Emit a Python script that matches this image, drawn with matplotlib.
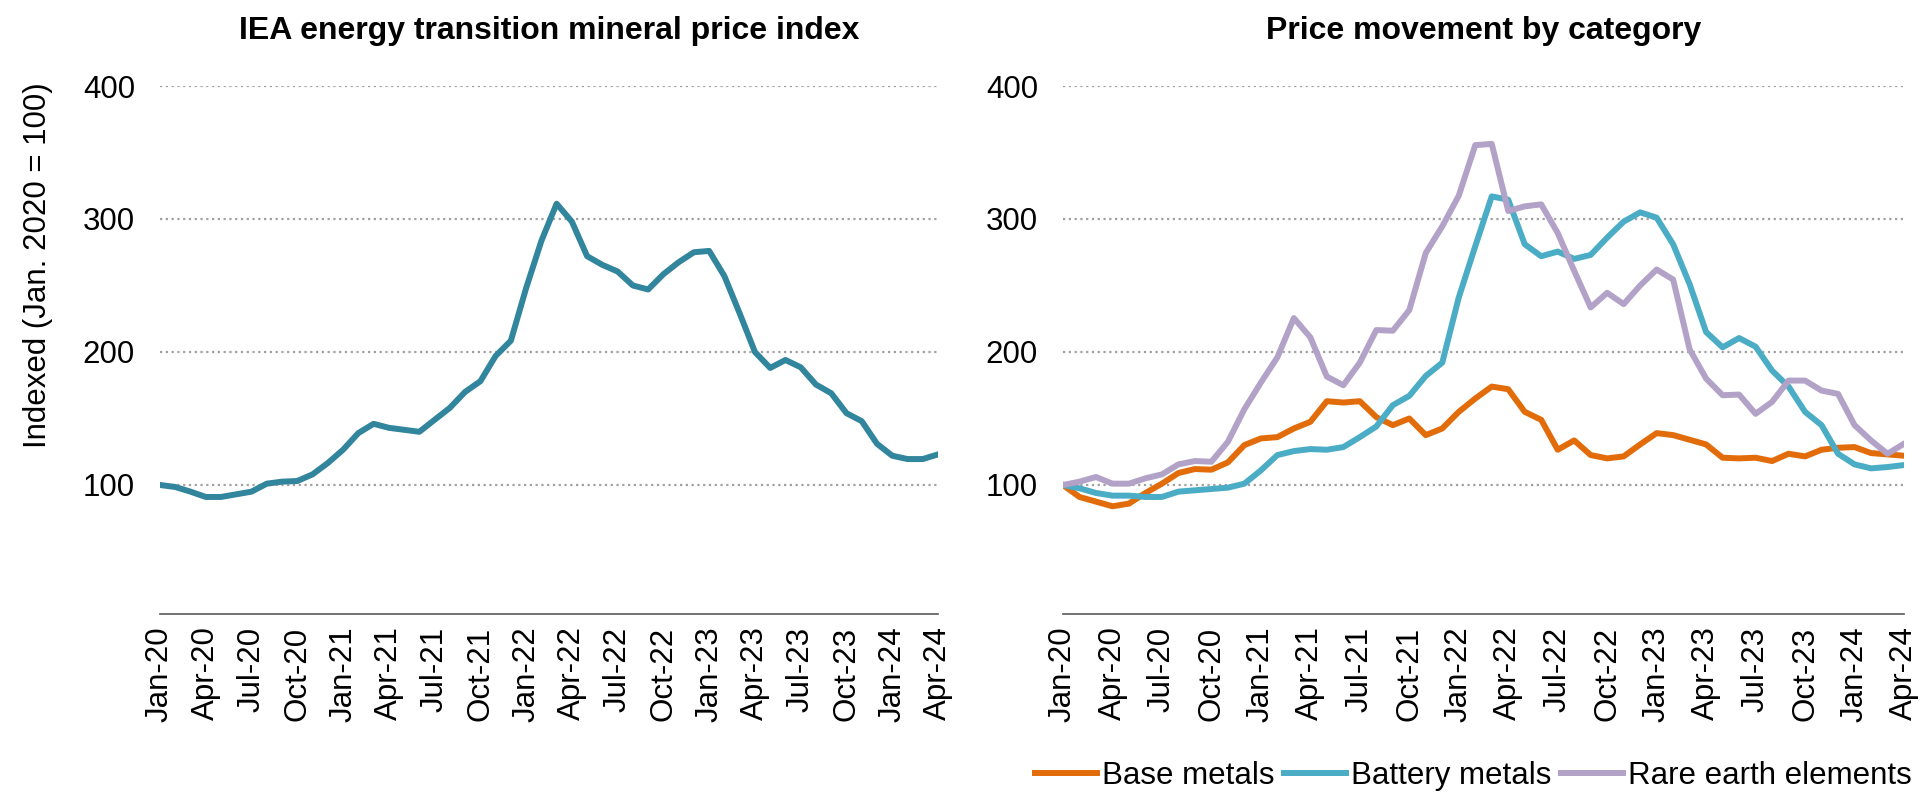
import matplotlib
matplotlib.use("Agg")
import matplotlib.pyplot as plt
import numpy as np

plt.rcParams['font.family'] = ['Liberation Sans', 'DejaVu Sans']

months = ["Jan", "Feb", "Mar", "Apr", "May", "Jun", "Jul", "Aug", "Sep", "Oct", "Nov", "Dec"]
dates = [f"{m}-{y:02d}" for y in range(20, 25) for m in months][:52]
tick_labels = dates[::3]

iea_index = [100, 98.5, 95, 91, 91, 93, 95, 101, 102.5, 103, 108, 116.5, 126.5, 139, 146, 143,
             141.5, 140, 149, 158, 170, 178, 197, 208.5, 248, 283.5, 311.5, 298, 272, 265.5,
             260.5, 250, 247, 258.5, 267.5, 275, 276, 257, 229, 200, 188, 194, 188.5, 175.5,
             169, 154, 148, 131, 122, 119.5, 119.5, 123]

base_metals = [100, 91, 87.5, 84, 86, 94, 101, 109, 112, 111.5, 117, 130, 135, 136, 142.5, 147.5,
               163, 162, 163, 151, 145, 150, 137.5, 142.5, 155, 165, 174, 172, 155, 149,
               126.5, 133.5, 122.5, 120, 121.5, 130.5, 139, 137.5, 134, 130.5, 120.5, 120, 120.5,
               118, 123.5, 121.5, 126.5, 128, 128.5, 124, 123, 122]

battery_metals = [100, 97.5, 94, 92, 92, 91, 91, 95, 96, 97, 98, 101, 111, 122.5, 125.5, 127,
                  126.5, 128.5, 136, 144, 160, 167, 182, 192, 241, 279.5, 317, 314.5, 281, 272,
                  275.5, 270, 273, 286, 298, 305, 301, 281, 251, 215, 203.5, 210.5, 204, 186,
                  174, 155, 145, 123.5, 115.5, 112.5, 113.5, 115]

rare_earths = [100, 102.5, 106, 101, 101, 105, 108, 115.5, 118, 117.5, 132.5, 157, 177, 196,
               225.5, 211, 181.5, 175, 192, 216.5, 216, 231.5, 274.5, 294.5, 317.5, 355.5, 356.5,
               306, 309.5, 311, 289.5, 261, 233.5, 244.5, 236, 250, 262, 254.5, 202, 180, 167.5,
               168, 153.5, 162.5, 178.5, 178.5, 171, 168.5, 145, 133.5, 123.5, 131]

y_ticks = [100, 200, 300, 400]

W, H = 1922, 797
fig = plt.figure(figsize=(W / 100, H / 100), dpi=100)

def frac(x0, x1, ytop, ybot):
    return [x0 / W, 1 - ybot / H, (x1 - x0) / W, (ybot - ytop) / H]

ax1 = fig.add_axes(frac(160, 938, 86, 614))
ax2 = fig.add_axes(frac(1063, 1904, 86, 614))

x = np.arange(len(dates))
FS = 22.5
LW = 4.3

def style(ax, title):
    ax.set_xlim(0, len(dates) - 1)
    ax.set_ylim(3, 400)
    ax.set_yticks(y_ticks)
    ax.set_yticklabels([str(v) for v in y_ticks], fontsize=FS)
    ax.set_xticks(x[::3])
    ax.set_xticklabels(tick_labels, rotation=90, fontsize=FS, va='top', ha='center')
    ax.tick_params(axis='both', length=0)
    ax.tick_params(axis='y', pad=18)
    ax.tick_params(axis='x', pad=9)
    for s in ['top', 'right', 'left']:
        ax.spines[s].set_visible(False)
    ax.spines['bottom'].set_color('#595959')
    ax.spines['bottom'].set_linewidth(1.2)
    ax.yaxis.grid(True, color='#A0A0A0', linestyle=(0, (1, 1.6)), linewidth=1.6)
    ax.set_axisbelow(True)
    ax.set_title(title, fontsize=23, fontweight='bold', pad=34)

ax1.plot(x, iea_index, color='#31859C', linewidth=LW, solid_joinstyle='round')
style(ax1, "IEA energy transition mineral price index")
ax1.set_ylabel("Indexed (Jan. 2020 = 100)", fontsize=FS)
ax1.yaxis.set_label_coords(-0.138, 0.66)

ax2.plot(x, base_metals, color='#E36C0A', linewidth=LW, label="Base metals", solid_joinstyle='round')
ax2.plot(x, battery_metals, color='#4BACC6', linewidth=LW, label="Battery metals", solid_joinstyle='round')
ax2.plot(x, rare_earths, color='#B3A2C7', linewidth=LW, label="Rare earth elements", solid_joinstyle='round')
style(ax2, "Price movement by category")

fig.legend(loc='center', bbox_to_anchor=(1473 / W, 1 - 776 / H), ncol=3, frameon=False,
           fontsize=FS, handlelength=2.0, handletextpad=0.15, columnspacing=0.3)

fig.savefig("out.png", dpi=100)
